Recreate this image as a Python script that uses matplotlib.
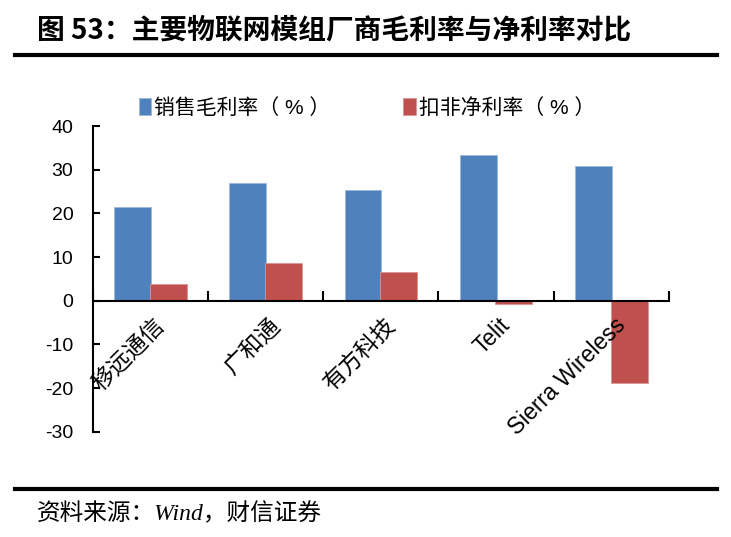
import matplotlib.pyplot as plt
import numpy as np

plt.rcParams['font.family'] = ['Liberation Sans', 'Noto Sans CJK SC', 'DejaVu Sans']

# data
companies = ['移远通信', '广和通', '有方科技', 'Telit', 'Sierra Wireless']
gross_margin = [21.5, 27.1, 25.3, 33.3, 30.9]   # 销售毛利率（%）
net_margin = [3.9, 8.6, 6.7, -0.7, -18.9]       # 扣非净利率（%）
series_names = ['销售毛利率（ % ）', '扣非净利率（ % ）']
yticks = [-30, -20, -10, 0, 10, 20, 30, 40]

blue = '#4F81BD'
red = '#C0504D'

fig = plt.figure(figsize=(7.31, 5.37), dpi=100)
ax = fig.add_axes([0.127, 0.196, 0.788, 0.569])

x = np.arange(len(companies))
w = 0.32
b1 = ax.bar(x - 0.155, gross_margin, w, color=blue, edgecolor='#9DB7DA', linewidth=0.6, label=series_names[0])
b2 = ax.bar(x + 0.155, net_margin, w, color=red, edgecolor='#D99694', linewidth=0.6, label=series_names[1])

ax.set_xlim(-0.5, len(companies) - 0.5)
ax.set_ylim(-30, 40)
ax.set_yticks(yticks)
ax.set_yticklabels([str(v) for v in yticks], fontsize=14)

ax.spines['top'].set_visible(False)
ax.spines['right'].set_visible(False)
ax.spines['bottom'].set_position(('data', 0))
ax.spines['left'].set_linewidth(1.5)
ax.spines['bottom'].set_linewidth(1.5)
ax.tick_params(axis='y', direction='in', length=5, width=1.5, pad=14)

# category boundary ticks on the zero line
ax.set_xticks(np.arange(-0.5, len(companies)), minor=False)
ax.set_xticklabels([])
ax.tick_params(axis='x', direction='in', length=7, width=1.5)

for i, name in enumerate(companies):
    ax.text(i + 0.02, -3.0, name, rotation=45, ha='right', va='top',
            rotation_mode='anchor', fontsize=16.5)

ax.legend(handles=[b1, b2], loc='lower center', bbox_to_anchor=(0.476, 1.0),
          ncol=2, frameon=False, fontsize=15, handlelength=0.6, handleheight=0.9,
          handletextpad=0.15, columnspacing=3.5, borderaxespad=0)

# title and source
fig.text(0.05, 0.943, '图 53：主要物联网模组厂商毛利率与净利率对比', fontsize=20,
         fontweight='bold', family=['Noto Sans CJK SC'], va='center')
fig.add_artist(plt.Line2D([0.021, 0.981], [0.897, 0.897], color='black', lw=3))
fig.add_artist(plt.Line2D([0.021, 0.981], [0.09, 0.09], color='black', lw=3))
fig.text(0.05, 0.043, '资料来源：Wind，财信证券', fontsize=17, style='italic',
         family=['Liberation Serif', 'Noto Sans CJK SC'], va='center')

fig.savefig('out.png', dpi=100)
